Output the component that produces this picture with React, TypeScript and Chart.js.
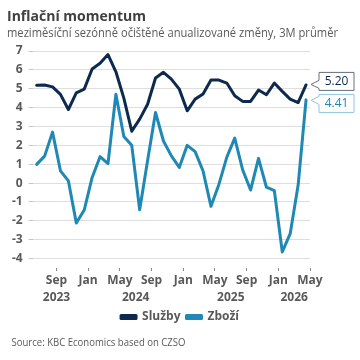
import React, { useEffect, useRef } from "react";
import { Chart, registerables } from "chart.js";

Chart.register(...registerables);

// Monthly periods, July 2023 – May 2026
const periods = [
  "2023-07", "2023-08", "2023-09", "2023-10", "2023-11", "2023-12",
  "2024-01", "2024-02", "2024-03", "2024-04", "2024-05", "2024-06",
  "2024-07", "2024-08", "2024-09", "2024-10", "2024-11", "2024-12",
  "2025-01", "2025-02", "2025-03", "2025-04", "2025-05", "2025-06",
  "2025-07", "2025-08", "2025-09", "2025-10", "2025-11", "2025-12",
  "2026-01", "2026-02", "2026-03", "2026-04", "2026-05",
];

// Services: m/m seasonally adjusted annualised change, 3M average (%)
const sluzby = [
  5.18, 5.2, 5.1, 4.7, 3.9, 4.78, 4.98, 6.05, 6.35, 6.81, 5.9, 4.5,
  2.75, 3.39, 4.18, 5.57, 5.87, 5.51, 4.98, 3.83, 4.45, 4.72, 5.46, 5.46,
  5.3, 4.63, 4.33, 4.33, 4.93, 4.68, 5.3, 4.86, 4.45, 4.27, 5.2,
];

// Goods: m/m seasonally adjusted annualised change, 3M average (%)
const zbozi = [
  0.99, 1.43, 2.7, 0.65, 0.12, -2.12, -1.43, 0.3, 1.4, 1.03, 4.71, 2.47,
  2.0, -1.41, 1.2, 3.74, 2.23, 1.44, 0.83, 2.0, 1.67, 0.64, -1.23, -0.07,
  1.38, 2.38, 0.7, -0.37, 1.31, -0.22, -0.4, -3.65, -2.68, -0.12, 4.41,
];

const seriesNames = ["Služby", "Zboží"];
const seriesColors = ["#0d2a4e", "#1f88b4"];
const calloutBorders = ["#66717d", "#8fc6de"];
const labelledMonths = ["Sep", "Jan", "May"];
const monthNames = ["Jan", "Feb", "Mar", "Apr", "May", "Jun", "Jul", "Aug", "Sep", "Oct", "Nov", "Dec"];

const TITLE = "Inflační momentum";
const SUBTITLE = "meziměsíční sezónně očištěné anualizované změny, 3M průměr";
const SOURCE = "Source: KBC Economics based on CZSO";

const FONT = "'Open Sans', sans-serif";
const TEXT = "#595959";

const monthOf = (p: string) => monthNames[parseInt(p.slice(5, 7), 10) - 1];
const yearOf = (p: string) => p.slice(0, 4);

// Axis ticks sit on the boundary after each labelled month
const tickValues = periods
  .map((p, i) => (labelledMonths.includes(monthOf(p)) ? i + 0.5 : null))
  .filter((v): v is number => v !== null);

// Year captions centred under the later part of each year's ticks
const yearRows = (() => {
  const groups: Record<string, number[]> = {};
  tickValues.forEach((v) => {
    const y = yearOf(periods[Math.floor(v)]);
    (groups[y] = groups[y] || []).push(v);
  });
  return Object.keys(groups).map((y) => {
    const g = groups[y].slice(-2);
    return { label: y, value: (g[0] + g[g.length - 1]) / 2 };
  });
})();

// Draws a left-aligned line of text squeezed to a given width
function fittedText(ctx: CanvasRenderingContext2D, text: string, x: number, y: number, width: number) {
  const w = ctx.measureText(text).width;
  ctx.save();
  ctx.translate(x, y);
  ctx.scale(width / w, 1);
  ctx.fillText(text, 0, 0);
  ctx.restore();
}

const overlayPlugin = {
  id: "overlay",
  afterLayout(chart: any) {
    // centre the legend across the full canvas width
    const lg = chart.legend;
    if (lg) {
      lg.left = 0;
      lg.right = chart.width;
    }
  },
  afterDraw(chart: any) {
    const ctx: CanvasRenderingContext2D = chart.ctx;
    const area = chart.chartArea;
    ctx.save();

    // Heading, subheading and source note
    ctx.textAlign = "left";
    ctx.textBaseline = "alphabetic";
    ctx.fillStyle = "#404040";
    ctx.font = `bold 15px ${FONT}`;
    fittedText(ctx, TITLE, 7, 21, 139);
    ctx.fillStyle = TEXT;
    ctx.font = `12px ${FONT}`;
    fittedText(ctx, SUBTITLE, 7, 37, 331);
    ctx.font = `11px ${FONT}`;
    fittedText(ctx, SOURCE, 11.5, 346, 174);

    // Year row beneath month ticks
    const xs = chart.scales.x;
    ctx.font = `bold 12px ${FONT}`;
    ctx.textAlign = "center";
    ctx.textBaseline = "middle";
    yearRows.forEach((r) => {
      ctx.fillText(r.label, xs.getPixelForValue(r.value), area.bottom + 29.5);
    });

    // Callouts with the latest value of each series
    const boxW = 35;
    const boxH = 18;
    const gap = 4;
    const items = chart.data.datasets.map((ds: any, i: number) => {
      const meta = chart.getDatasetMeta(i);
      const pt = meta.data[meta.data.length - 1];
      const v = ds.data[ds.data.length - 1].y;
      return { i, x: pt.x, y: pt.y, cy: pt.y, text: v.toFixed(2) };
    });
    items.sort((a: any, b: any) => a.y - b.y);
    for (let k = 1; k < items.length; k++) {
      const a = items[k - 1];
      const b = items[k];
      const need = boxH + gap - (b.cy - a.cy);
      if (need > 0) {
        a.cy -= need / 2;
        b.cy += need / 2;
      }
    }
    ctx.font = `12px ${FONT}`;
    items.forEach((it: any) => {
      const left = area.right + 9;
      const top = it.cy - boxH / 2;
      const bottom = top + boxH;
      const tipX = area.right + 1;
      const tipY = Math.min(Math.max(it.y, top + 6), bottom - 6);
      ctx.beginPath();
      ctx.moveTo(left, top);
      ctx.lineTo(left + boxW, top);
      ctx.lineTo(left + boxW, bottom);
      ctx.lineTo(left, bottom);
      ctx.lineTo(left, tipY + 4);
      ctx.lineTo(tipX, tipY);
      ctx.lineTo(left, tipY - 4);
      ctx.closePath();
      ctx.fillStyle = "#ffffff";
      ctx.fill();
      ctx.strokeStyle = calloutBorders[it.i];
      ctx.lineWidth = 1;
      ctx.stroke();
      ctx.fillStyle = seriesColors[it.i];
      ctx.textAlign = "center";
      ctx.textBaseline = "middle";
      ctx.fillText(it.text, left + boxW / 2, it.cy + 0.5);
    });

    ctx.restore();
  },
};

export default function App() {
  const canvasRef = useRef<HTMLCanvasElement | null>(null);

  useEffect(() => {
    if (!canvasRef.current) return;
    Chart.defaults.font.family = FONT;
    const series = [sluzby, zbozi];
    const chart = new Chart(canvasRef.current, {
      type: "line",
      data: {
        datasets: series.map((vals, s) => ({
          label: seriesNames[s],
          data: vals.map((v, i) => ({ x: i, y: v })),
          borderColor: seriesColors[s],
          backgroundColor: seriesColors[s],
          borderWidth: 3,
          pointRadius: 0,
          tension: 0,
          borderJoinStyle: "round" as const,
          borderCapStyle: "round" as const,
        })),
      },
      options: {
        animation: false,
        responsive: false,
        devicePixelRatio: 1,
        layout: { padding: { top: 51, left: 6, right: 50, bottom: 27 } },
        scales: {
          x: {
            type: "linear",
            min: -0.5,
            max: periods.length - 0.5,
            afterBuildTicks: (scale: any) => {
              scale.ticks = tickValues.map((v) => ({ value: v }));
            },
            grid: {
              drawOnChartArea: false,
              drawTicks: true,
              tickLength: 3,
              tickColor: "#8c8c8c",
            },
            border: { display: false },
            ticks: {
              autoSkip: false,
              maxRotation: 0,
              padding: 2,
              color: TEXT,
              font: { size: 12, weight: "bold", lineHeight: 1.25 },
              callback: (value: any) => [monthOf(periods[Math.floor(Number(value))]), ""],
            },
          },
          y: {
            min: -4.5,
            max: 7,
            grid: { color: "#dedede", tickLength: 4, tickColor: "#c4c4c4" },
            border: { display: false },
            ticks: {
              stepSize: 1,
              includeBounds: false,
              padding: 6,
              color: TEXT,
              font: { size: 12, weight: "bold" },
            },
          },
        },
        plugins: {
          legend: {
            position: "bottom",
            labels: {
              boxWidth: 15,
              boxHeight: 3,
              padding: 6,
              color: TEXT,
              font: { size: 12, weight: "bold" },
            },
          },
          tooltip: { enabled: false },
          title: { display: false },
        },
      },
      plugins: [overlayPlugin],
    } as any);
    return () => chart.destroy();
  }, []);

  return (
    <div style={{ position: "absolute", left: 0, top: 0, width: 360, height: 360, background: "#ffffff" }}>
      <canvas ref={canvasRef} width={360} height={360} />
    </div>
  );
}
